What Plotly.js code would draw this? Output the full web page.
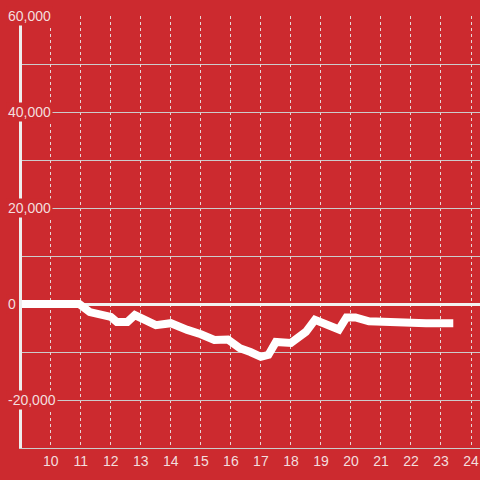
<!DOCTYPE html>
<html>
<head>
<meta charset="utf-8">
<script src="https://cdn.plot.ly/plotly-3.0.1.min.js"></script>
<style>html,body{margin:0;padding:0;background:#cc2a2f;}#chart{width:480px;height:480px;}</style>
</head>
<body>
<div id="chart"></div>
<script>
// Data
const hours = [9, 10, 10.95, 11.3, 11.75, 12.0, 12.2, 12.55, 12.8, 13.2, 13.5, 14.0, 14.3, 14.55, 15.0, 15.45, 15.9, 16.3, 16.65, 17.0, 17.25, 17.5, 18.0, 18.3, 18.5, 18.8, 19.6, 19.85, 20.15, 20.6, 21.3, 21.5, 22.5, 23.41];
const values = [0, 0, 0, -1700, -2300, -2700, -3750, -3750, -2300, -3300, -4400, -4000, -5000, -5400, -6300, -7500, -7400, -9200, -10000, -11000, -10600, -7900, -8100, -6500, -5800, -3300, -5300, -2800, -2800, -3600, -3800, -4000, -4000, -4000];
const xTickVals = [10, 11, 12, 13, 14, 15, 16, 17, 18, 19, 20, 21, 22, 23, 24];
const xTickText = ["10", "11", "12", "13", "14", "15", "16", "17", "18", "19", "20", "21", "22", "23", "24"];
const yTickVals = [60000, 40000, 20000, 0, -20000];
const yTickText = ["60,000", "40,000", "20,000", "0", "-20,000"];

const BG = '#cc2a2f';
const LABEL = '#f3dede';
const FONT = '"Liberation Sans", Arial, Helvetica, sans-serif';

const trace = {
  x: hours,
  y: values,
  type: 'scatter',
  mode: 'lines',
  line: {color: '#ffffff', width: 8},
  hoverinfo: 'skip'
};

const annotations = yTickVals.map((v, i) => ({
  xref: 'paper', yref: 'y',
  x: -0.036, y: v,
  xanchor: 'left', yanchor: 'middle',
  text: yTickText[i],
  showarrow: false,
  bgcolor: BG,
  borderpad: 1,
  font: {family: FONT, size: 14, color: LABEL}
}));

const layout = {
  width: 480, height: 480,
  margin: {l: 22, r: 0, t: 16, b: 32, pad: 0},
  paper_bgcolor: BG,
  plot_bgcolor: BG,
  showlegend: false,
  font: {family: FONT, size: 14, color: LABEL},
  xaxis: {
    range: [9.04, 24.3],
    tickmode: 'array',
    tickvals: xTickVals,
    ticktext: xTickText,
    ticks: '',
    showgrid: true,
    gridcolor: '#e6d6d6',
    griddash: 'dot',
    gridwidth: 1,
    zeroline: false,
    showline: true,
    linecolor: '#cccccc',
    linewidth: 1,
    tickfont: {family: FONT, size: 14, color: LABEL},
    fixedrange: true
  },
  yaxis: {
    range: [-30000, 60000],
    tickmode: 'array',
    tickvals: yTickVals,
    showticklabels: false,
    ticks: '',
    showgrid: true,
    gridcolor: '#cccccc',
    gridwidth: 1,
    minor: {tickmode: 'linear', tick0: 0, dtick: 10000, showgrid: true, gridcolor: '#cccccc', gridwidth: 1, ticks: ''},
    zeroline: true,
    zerolinecolor: '#f2f2f2',
    zerolinewidth: 3,
    showline: true,
    linecolor: '#eeeeee',
    linewidth: 3,
    fixedrange: true
  },
  annotations: annotations
};

Plotly.newPlot('chart', [trace], layout, {displayModeBar: false, staticPlot: true});
</script>
</body>
</html>
